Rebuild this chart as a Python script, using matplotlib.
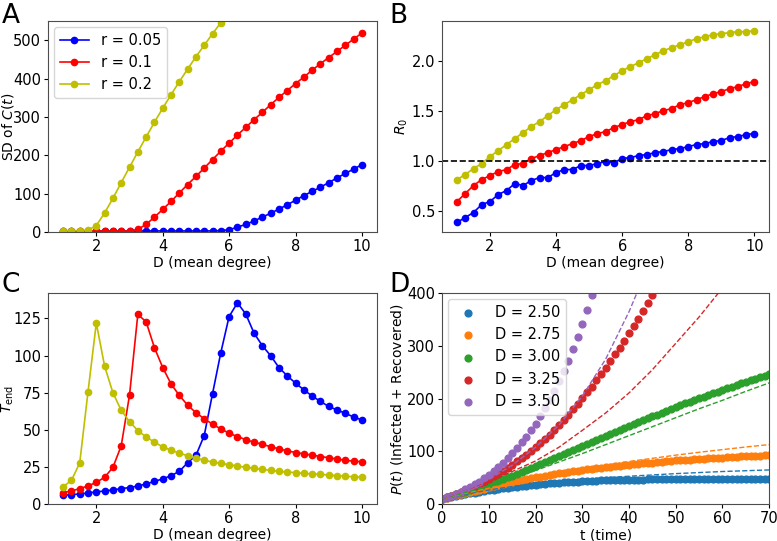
import matplotlib.pyplot as plt
import numpy as np

# mean degree grid for panels A-C
D = np.arange(1, 10.01, 0.25)

# A: SD of C(t)
sd_r005 = [3, 3, 3, 3, 3, 3, 3, 3, 3, 3, 3, 3, 3, 3, 3, 3, 3, 3, 3, 4, 6,
           13, 20, 29, 39, 49, 60, 71, 83, 95, 106, 117, 129, 141, 153, 164, 176]
sd_r01 = [3, 3, 3, 3, 3, 3, 3, 3, 3, 7, 20, 39, 59, 80, 102, 124, 145, 167, 189,
          211, 232, 253, 273, 293, 312, 332, 351, 369, 387, 404, 422, 439, 455,
          471, 487, 503, 519]
sd_r02 = [4, 4, 4, 5, 17, 50, 88, 129, 169, 209, 248, 286, 323, 358, 392, 425,
          457, 487, 517, 546, 575]

# B: R0
r0_r005 = [0.38, 0.43, 0.48, 0.56, 0.59, 0.66, 0.70, 0.77, 0.75, 0.80, 0.83, 0.83,
           0.88, 0.91, 0.91, 0.95, 0.95, 0.97, 0.99, 0.98, 1.02, 1.03, 1.05, 1.06,
           1.08, 1.09, 1.11, 1.12, 1.14, 1.16, 1.17, 1.19, 1.20, 1.23, 1.24, 1.26, 1.27]
r0_r01 = [0.59, 0.67, 0.75, 0.81, 0.85, 0.89, 0.91, 0.96, 0.97, 1.02, 1.05, 1.08,
          1.11, 1.14, 1.17, 1.20, 1.24, 1.27, 1.29, 1.33, 1.36, 1.39, 1.41, 1.45,
          1.47, 1.50, 1.52, 1.56, 1.58, 1.61, 1.64, 1.67, 1.69, 1.72, 1.74, 1.77, 1.79]
r0_r02 = [0.81, 0.86, 0.92, 0.97, 1.04, 1.10, 1.16, 1.22, 1.28, 1.34, 1.39, 1.45,
          1.51, 1.56, 1.61, 1.66, 1.71, 1.76, 1.80, 1.85, 1.90, 1.94, 1.98, 2.02,
          2.06, 2.10, 2.13, 2.16, 2.19, 2.22, 2.24, 2.26, 2.27, 2.28, 2.29, 2.29, 2.30]

# C: T_end
tend_r005 = [6.0, 6.5, 6.9, 7.6, 8.3, 8.9, 9.6, 10.5, 11.2, 12.3, 13.6, 15.4, 17.0,
             19.2, 22.1, 27.9, 32.8, 46.2, 74.3, 102, 126.3, 135.5, 128.1, 115.2,
             106.7, 100, 92, 86.4, 81.5, 77, 72.8, 69.2, 65.8, 63.4, 61.2, 58.7, 56.7]
tend_r01 = [7.8, 8.9, 10.5, 12.3, 14.7, 18.1, 24.8, 39.3, 73.4, 127.7, 122.8, 105.4,
            92.0, 81.0, 73.2, 66.7, 61.6, 57.6, 53.8, 50.7, 47.8, 45.5, 43.5, 41.7,
            40.4, 38.6, 37.3, 35.9, 34.8, 33.9, 33.0, 32.1, 31.3, 30.4, 29.5, 29.0, 28.6]
tend_r02 = [11.8, 16, 27.7, 75.7, 121.9, 92.9, 75, 63.2, 55.6, 49.6, 45.3, 41.7,
            38.6, 36.4, 34.4, 32.6, 30.8, 29.7, 28.3, 27.5, 26.6, 25.7, 24.8, 24.1,
            23.4, 22.8, 22.1, 21.7, 21.2, 20.8, 20.3, 20.1, 19.6, 19.2, 18.8, 18.5, 18.1]

# D: P(t) simulations (dots) and theory (dashed)
t = np.arange(0, 71)
p_250 = [10, 12, 14, 15.5, 17, 19, 20.5, 22, 23.5, 25, 26, 27.5, 28.5, 30, 31, 32,
         33, 34, 35, 36, 37, 38, 39, 39.5, 40.5, 41, 41.5, 42, 42.5, 43, 43.5, 44,
         44, 44.5, 45, 45, 45.5, 45.5, 46, 46, 46, 46.5, 46.5, 46.5, 47, 47, 47, 47,
         47, 47.5, 47.5, 47.5, 47.5, 47.5, 47.5, 47.5, 48, 48, 48, 48, 48, 48, 48,
         48, 48, 48, 48, 48, 48, 48, 48]
p_275 = [10, 12.5, 15, 17, 19, 21, 23, 25, 27, 29.5, 32, 34, 36, 38, 40, 42, 44, 46,
         47.5, 49, 51, 52.5, 54, 55.5, 57, 58.5, 60, 61, 62.5, 63.5, 65, 66, 67, 68,
         69, 70, 71, 72, 73, 74, 75, 76, 76.5, 77.5, 78.5, 79, 80, 80.5, 81.5, 82,
         83, 83.5, 84, 84.5, 85.5, 86, 86.5, 87, 87.5, 88, 88.5, 89, 89.5, 90, 90.5,
         91, 91.5, 92, 92, 92.5, 93]
p_300 = [10, 13, 16, 18.5, 21, 24, 27, 30, 32.5, 35.5, 38.5, 41.5, 44.5, 47.5, 51,
         54, 57.5, 61, 64.5, 68, 71.5, 75.5, 79.5, 83, 87, 90.5, 94.5, 98.5, 102,
         106, 110, 114, 117.5, 121.5, 125, 129, 133, 136.5, 140.5, 144, 148, 151.5,
         155, 159, 162.5, 166.5, 170, 173.5, 177, 180.5, 184, 187.5, 191, 194,
         197.5, 201, 204, 207, 210.5, 213.5, 217, 220, 223, 226, 229, 232, 235,
         237.5, 240.5, 243, 246]
p_325 = [10, 13, 16, 19, 22.5, 26, 30, 34, 38.5, 43, 48, 53, 58, 63.5, 69, 75, 81,
         87.5, 94, 101, 108, 116, 124, 132, 141, 150, 160, 170, 180, 190, 201, 212,
         223, 235, 247, 259, 271, 284, 297, 310, 324, 338, 352, 367, 382, 397]
p_350 = [10, 13, 16, 19.5, 23.5, 28, 32.5, 37.5, 43, 49.5, 56, 63, 70, 78, 87, 97,
         107, 117, 128, 140, 153, 167, 182, 198, 215, 233, 252, 272, 294, 317, 342,
         368, 396]

t_th = np.arange(0, 71, 5)
th_250 = [10, 19, 27, 33.5, 39, 43.5, 47, 50.5, 53, 55.5, 58, 60, 62, 63.5, 65]
th_275 = [10, 20.5, 30.5, 40.5, 50, 58.5, 66.5, 74, 81, 87, 93, 98.5, 103.5, 108.5, 113]
th_300 = [10, 22, 35, 49, 64, 80, 96, 113, 130, 147, 164, 181, 197, 214, 230]
th_325 = [10, 26, 44, 62, 82, 108, 140, 173, 211, 255, 305, 355, 410]
th_350 = [10, 26, 47, 74, 108, 150, 205, 275, 365, 470]

d_labels = ["D = 2.50", "D = 2.75", "D = 3.00", "D = 3.25", "D = 3.50"]

plt.rcParams['font.size'] = 10
plt.rcParams['xtick.labelsize'] = 10.5
plt.rcParams['ytick.labelsize'] = 10.5
plt.rcParams['xtick.major.size'] = 3
plt.rcParams['ytick.major.size'] = 3
plt.rcParams['xtick.major.pad'] = 2
plt.rcParams['ytick.major.pad'] = 2
plt.rcParams['axes.edgecolor'] = '0.3'

fig = plt.figure(figsize=(7.77, 5.41), dpi=100)
axA = fig.add_axes([0.062, 0.571, 0.423, 0.390])
axB = fig.add_axes([0.569, 0.571, 0.421, 0.390])
axC = fig.add_axes([0.062, 0.068, 0.423, 0.390])
axD = fig.add_axes([0.569, 0.068, 0.421, 0.390])

ms = 4.5
lw = 1.2

# A
axA.plot(D, sd_r005, 'o-', color='b', ms=ms, lw=lw, label='r = 0.05')
axA.plot(D, sd_r01, 'o-', color='r', ms=ms, lw=lw, label='r = 0.1')
axA.plot(D[:len(sd_r02)], sd_r02, 'o-', color='y', ms=ms, lw=lw, label='r = 0.2')
axA.set_ylim(0, 550)
axA.set_xlabel('D (mean degree)')
axA.set_ylabel('SD of $C(t)$')
axA.legend(loc='upper left', fontsize=10.5, borderaxespad=0.4)

# B
axB.plot(D, r0_r005, 'o-', color='b', ms=ms, lw=lw)
axB.plot(D, r0_r01, 'o-', color='r', ms=ms, lw=lw)
axB.plot(D, r0_r02, 'o-', color='y', ms=ms, lw=lw)
axB.axhline(1.0, color='k', ls='--', lw=1.2)
axB.set_xlabel('D (mean degree)')
axB.set_ylabel('$R_0$')

# C
axC.plot(D, tend_r005, 'o-', color='b', ms=ms, lw=lw)
axC.plot(D, tend_r01, 'o-', color='r', ms=ms, lw=lw)
axC.plot(D, tend_r02, 'o-', color='y', ms=ms, lw=lw)
axC.set_ylim(0, 142)
axC.set_xlabel('D (mean degree)')
axC.set_ylabel('$T_{\\mathrm{end}}$')

# D
sims = [p_250, p_275, p_300, p_325, p_350]
theory = [th_250, th_275, th_300, th_325, th_350]
colors = plt.rcParams['axes.prop_cycle'].by_key()['color']
for i in range(5):
    sim = sims[i]
    th = theory[i]
    axD.scatter(t[:len(sim)], sim, s=24, color=colors[i], label=d_labels[i])
    axD.plot(t_th[:len(th)], th, '--', color=colors[i], lw=1)
axD.set_xlim(0, 70)
axD.set_ylim(0, 400)
axD.set_xlabel('t (time)')
axD.set_ylabel('$P(t)$ (Infected + Recovered)')
axD.legend(loc='upper left', fontsize=10.5, borderaxespad=0.4)

for ax in [axA, axB, axC]:
    ax.set_xlim(0.55, 10.45)
    ax.set_xticks([2, 4, 6, 8, 10])

# label placement as in the reference
for ax in [axA, axB, axC, axD]:
    ax.yaxis.set_label_coords(-0.098, 0.5)
    ax.xaxis.set_label_coords(0.5, -0.113)
axD.yaxis.set_label_coords(-0.112, 0.5)

fig.text(0.002, 0.995, 'A', fontsize=19, va='top')
fig.text(0.501, 0.995, 'B', fontsize=19, va='top')
fig.text(0.002, 0.497, 'C', fontsize=19, va='top')
fig.text(0.501, 0.497, 'D', fontsize=19, va='top')

fig.savefig('out.png', dpi=100)
